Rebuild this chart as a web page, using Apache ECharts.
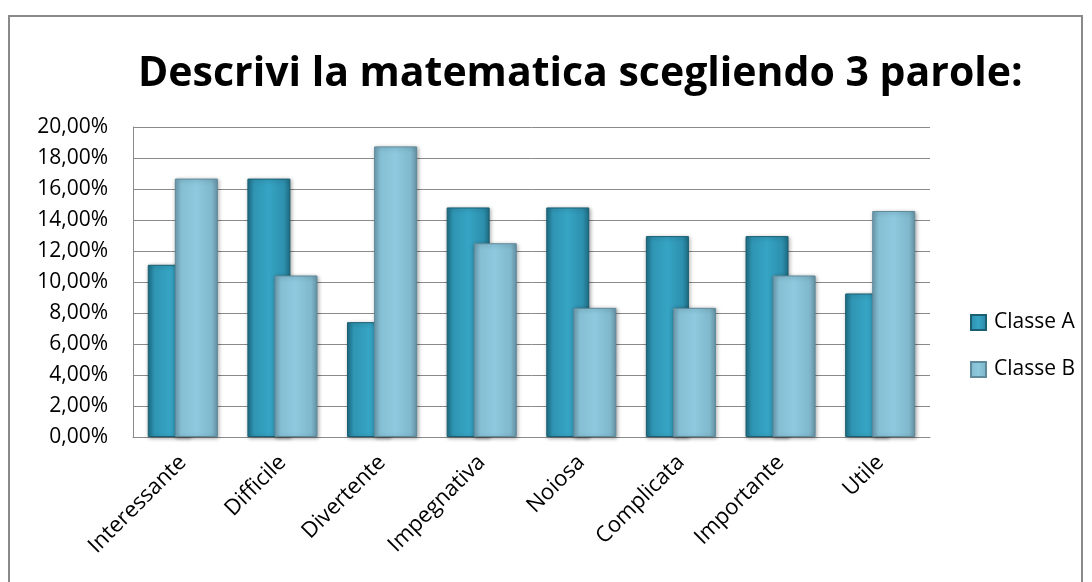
<!DOCTYPE html>
<html>
<head>
<meta charset="utf-8">
<script src="https://cdn.jsdelivr.net/npm/echarts@6/dist/echarts.min.js"></script>
<style>
  html, body { margin: 0; padding: 0; background: #fff; }
  #frame {
    position: absolute; left: 8px; top: 15px; width: 1075px; height: 580px;
    border: 2px solid #8a8a8a; box-sizing: border-box;
  }
  #chart { position: absolute; left: 0; top: 0; width: 1092px; height: 582px; }
</style>
</head>
<body>
<div id="frame"></div>
<div id="chart"></div>
<script>
// categorie e valori (percentuali)
const categories = ['Interessante', 'Difficile', 'Divertente', 'Impegnativa', 'Noiosa', 'Complicata', 'Importante', 'Utile'];
const classeA = [11.11, 16.67, 7.41, 14.81, 14.81, 12.96, 12.96, 9.26];
const classeB = [16.67, 10.42, 18.75, 12.50, 8.33, 8.33, 10.42, 14.58];
const seriesNames = ['Classe A', 'Classe B'];

const font = '"Open Sans", "Noto Sans", sans-serif';

const gradA = new echarts.graphic.LinearGradient(0, 0, 1, 0, [
  { offset: 0, color: '#1d6f86' },
  { offset: 0.15, color: '#2f95b3' },
  { offset: 0.5, color: '#36a4c4' },
  { offset: 0.85, color: '#2d90ae' },
  { offset: 1, color: '#1e6e85' }
]);
const gradB = new echarts.graphic.LinearGradient(0, 0, 1, 0, [
  { offset: 0, color: '#6f9fb2' },
  { offset: 0.15, color: '#86bfd4' },
  { offset: 0.5, color: '#8dc9df' },
  { offset: 0.85, color: '#80b8cc' },
  { offset: 1, color: '#6896a8' }
]);

let chart = echarts.init(document.getElementById('chart'));
chart.setOption({
  animation: false,
  title: {
    text: 'Descrivi la matematica scegliendo 3 parole:',
    left: 133,
    top: 49,
    textStyle: { fontFamily: font, fontSize: 41, fontWeight: 'bold', color: '#000' }
  },
  legend: {
    orient: 'vertical',
    left: 970,
    top: 312,
    padding: 0,
    itemGap: 26,
    itemWidth: 15,
    itemHeight: 15,
    icon: 'rect',
    data: seriesNames,
    textStyle: { fontFamily: font, fontSize: 21, lineHeight: 21, color: '#000', padding: [0, 0, 0, 3] }
  },
  grid: { left: 133, right: 162, top: 127, bottom: 145 },
  xAxis: {
    type: 'category',
    data: categories,
    axisLine: { lineStyle: { color: '#8a8a8a', width: 1 } },
    axisTick: { show: false },
    axisLabel: {
      rotate: 45, margin: 22, interval: 0,
      fontFamily: font, fontSize: 22, color: '#000'
    }
  },
  yAxis: {
    type: 'value',
    min: 0, max: 20, interval: 2,
    axisLine: { show: true, lineStyle: { color: '#8a8a8a', width: 1 } },
    axisTick: { show: false },
    splitLine: { lineStyle: { color: '#8a8a8a', width: 1 } },
    axisLabel: {
      margin: 25, fontFamily: font, fontSize: 21, color: '#000',
      formatter: v => v.toFixed(2).replace('.', ',') + '%'
    }
  },
  series: [
    {
      name: seriesNames[0], type: 'bar', data: classeA,
      barWidth: 43, barGap: '-37%',
      itemStyle: {
        color: gradA, borderColor: '#1b5f72', borderWidth: 1,
        shadowBlur: 4, shadowColor: 'rgba(0,0,0,0.35)', shadowOffsetX: 1, shadowOffsetY: 1
      }
    },
    {
      name: seriesNames[1], type: 'bar', data: classeB,
      barWidth: 43,
      itemStyle: {
        color: gradB, borderColor: '#5f8a9b', borderWidth: 1,
        shadowBlur: 4, shadowColor: 'rgba(0,0,0,0.35)', shadowOffsetX: 1, shadowOffsetY: 1
      }
    }
  ]
});
</script>
</body>
</html>
